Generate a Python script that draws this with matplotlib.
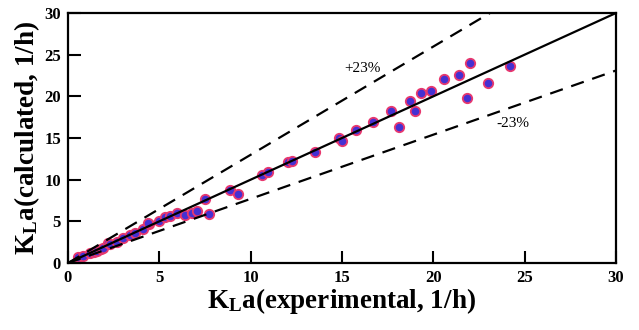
import matplotlib
matplotlib.use("Agg")
import matplotlib.pyplot as plt
import numpy as np

plt.rcParams['font.family'] = 'Liberation Serif'
plt.rcParams['mathtext.fontset'] = 'custom'
plt.rcParams['mathtext.rm'] = 'Liberation Serif:bold'
plt.rcParams['mathtext.it'] = 'Liberation Serif:bold'
plt.rcParams['mathtext.bf'] = 'Liberation Serif:bold'

# KLa values
kla_exp = [0.56, 0.84, 1.2, 1.4, 1.57, 1.8, 1.93, 2.2, 2.3, 2.66, 3.03, 3.39, 3.67,
           4.12, 4.45, 4.4, 5.0, 5.3, 5.58, 5.95, 6.4, 6.77, 7.04, 7.5, 7.72, 8.87,
           9.32, 10.6, 10.97, 12.06, 12.24, 13.5, 14.83, 15.0, 15.76, 16.7, 17.7,
           18.1, 18.7, 19.0, 19.3, 19.85, 20.6, 21.4, 21.85, 22.0, 23.0, 24.2]
kla_calc = [0.68, 0.84, 1.24, 1.3, 1.48, 1.7, 1.76, 2.4, 2.28, 2.56, 2.96, 3.36, 3.56,
            4.04, 4.68, 4.85, 5.08, 5.48, 5.64, 5.96, 5.76, 6.04, 6.28, 7.64, 5.84, 8.76,
            8.28, 10.6, 10.96, 12.1, 12.2, 13.3, 14.97, 14.7, 15.97, 16.96, 18.2,
            16.3, 19.4, 18.2, 20.4, 20.7, 22.1, 22.6, 19.85, 24.05, 21.6, 23.6]
dev = 0.23

fig = plt.figure(figsize=(6.39, 3.30), dpi=100)
ax = fig.add_axes([0.1064, 0.203, 0.8576, 0.7576])

xx = np.array([0, 30])
ax.scatter(kla_exp, kla_calc, s=46, color='#4530d2', edgecolors='#e8386e',
           linewidths=1.3, zorder=2)
ax.plot(xx, xx, color='black', linewidth=1.6, zorder=3)
ax.plot(xx, xx / (1 - dev), color='black', linewidth=1.6, linestyle=(0, (6, 4)), zorder=3)
ax.plot(xx, xx * (1 - dev), color='black', linewidth=1.6, linestyle=(0, (6, 4)), zorder=3)

ax.text(16.1, 23.4, "+23%", fontsize=11, ha='center', va='center')
ax.text(24.35, 16.8, "-23%", fontsize=11, ha='center', va='center')

ax.set_xlim(0, 30)
ax.set_ylim(0, 30)
ax.set_xticks([0, 5, 10, 15, 20, 25, 30])
ax.set_yticks([0, 5, 10, 15, 20, 25, 30])
ax.tick_params(direction='in', length=9, width=1.5, labelsize=12, pad=5)
for lab in ax.get_xticklabels() + ax.get_yticklabels():
    lab.set_fontweight('bold')
for sp in ax.spines.values():
    sp.set_linewidth(1.6)

ax.set_xlabel(r"$\mathrm{K_L}$a(experimental, 1/h)", fontsize=19.5, fontweight='bold', labelpad=0)
ax.set_ylabel(r"$\mathrm{K_L}$a(calculated, 1/h)", fontsize=19.5, fontweight='bold', labelpad=2)

fig.savefig("out.png", dpi=100)
